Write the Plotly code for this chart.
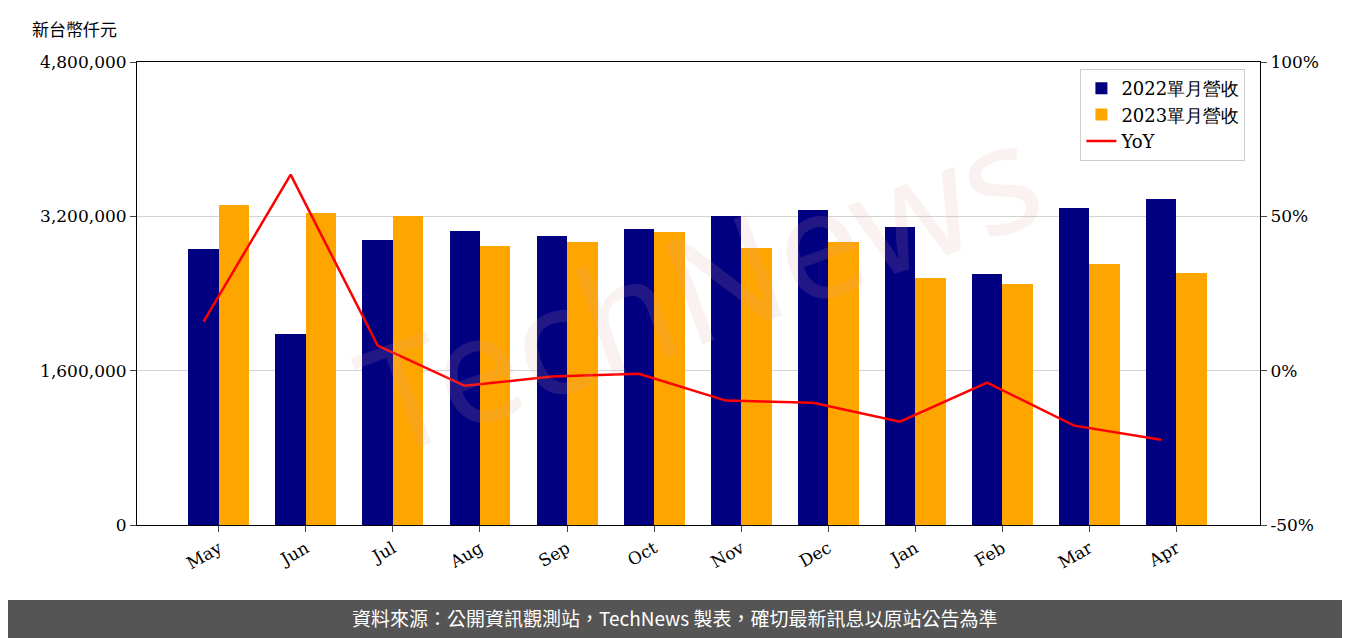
import plotly.graph_objects as go

months = ["May", "Jun", "Jul", "Aug", "Sep", "Oct", "Nov", "Dec", "Jan", "Feb", "Mar", "Apr"]
rev_2022 = [2861000, 1980000, 2955000, 3048000, 2996000, 3069000, 3203000, 3266000, 3089000, 2602000, 3286000, 3380000]
rev_2023 = [3317000, 3235000, 3203000, 2892000, 2934000, 3038000, 2872000, 2934000, 2561000, 2498000, 2706000, 2612000]
yoy = [15.9, 63.5, 8.1, -4.9, -1.9, -1.0, -9.7, -10.4, -16.5, -3.9, -17.8, -22.4]

idx = list(range(len(months)))
w = 0.35
serif = "DejaVu Serif"

fig = go.Figure()
fig.add_trace(go.Bar(x=[i - w / 2 for i in idx], y=rev_2022, width=w, name="2022單月營收",
                     marker=dict(color="#000080", line_width=0)))
fig.add_trace(go.Bar(x=[i + w / 2 for i in idx], y=rev_2023, width=w, name="2023單月營收",
                     marker=dict(color="#FFA500", line_width=0)))
fig.add_trace(go.Scatter(x=[i - w / 2 for i in idx], y=yoy, name="YoY", mode="lines",
                         line=dict(color="red", width=2.5), yaxis="y2"))

fig.update_layout(
    width=1350, height=638, plot_bgcolor="white", paper_bgcolor="white",
    margin=dict(l=129, r=98, t=54, b=121),
    font=dict(family=serif, size=17, color="black"),
    barmode="overlay", bargap=0,
    showlegend=True,
    legend=dict(x=0.987, y=0.985, xanchor="right", yanchor="top", bordercolor="#cccccc",
                borderwidth=1, bgcolor="rgba(255,255,255,0.8)", font=dict(family=serif, size=18)),
    xaxis=dict(range=[-0.94, 11.96], tickvals=idx, ticktext=months, tickangle=-30,
               showgrid=False, showline=True, linecolor="black", mirror=True,
               ticks="outside", ticklen=6, zeroline=False),
    yaxis=dict(range=[0, 4800000], tickvals=[0, 1600000, 3200000, 4800000],
               ticktext=["0", "1,600,000", "3,200,000", "4,800,000"],
               showgrid=True, gridcolor="#d3d3d3", showline=True, linecolor="black",
               ticks="outside", ticklen=6, zeroline=False),
    yaxis2=dict(range=[-50, 100], overlaying="y", side="right",
                tickvals=[-50, 0, 50, 100], ticktext=["-50%", "0%", "50%", "100%"],
                showgrid=False, showline=True, linecolor="black", ticks="outside",
                ticklen=6, zeroline=False),
    shapes=[dict(type="rect", xref="paper", yref="paper", x0=-0.13, x1=1.13,
                 y0=-0.162, y1=-0.3, fillcolor="#555555", line_width=0, layer="below")],
    annotations=[
        dict(text="新台幣仟元", xref="paper", yref="paper", x=-0.095, y=1.073,
             xanchor="left", yanchor="middle", showarrow=False,
             font=dict(family="Noto Sans CJK TC", size=17)),
        dict(text="TechNews", xref="paper", yref="paper", x=0.5, y=0.52, showarrow=False,
             textangle=-20, font=dict(family="Noto Sans", size=150, color="rgba(220,160,160,0.15)")),
        dict(text="資料來源：公開資訊觀測站，TechNews 製表，確切最新訊息以原站公告為準",
             xref="paper", yref="paper", x=0.479, y=-0.233, showarrow=False,
             font=dict(family="Noto Sans CJK TC", size=19, color="white")),
    ],
)

fig.write_html("out.html")
